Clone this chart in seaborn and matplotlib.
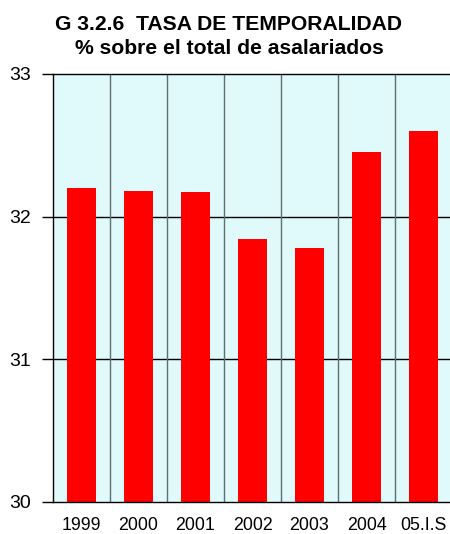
import numpy as np
import pandas as pd
import matplotlib.pyplot as plt
import seaborn as sns

# datos
years = ["1999", "2000", "2001", "2002", "2003", "2004", "05.I.S"]
tasa = [32.20, 32.18, 32.17, 31.84, 31.78, 32.45, 32.60]

df = pd.DataFrame({"periodo": years, "tasa": tasa})

sns.set_style("white")
plt.rcParams["font.family"] = ["Liberation Sans", "DejaVu Sans"]
plt.rcParams["text.color"] = "black"
plt.rcParams["xtick.color"] = "black"
plt.rcParams["ytick.color"] = "black"

fig = plt.figure(figsize=(4.5, 5.34), dpi=100)
ax = fig.add_axes([53 / 450, 32 / 534, 399 / 450, 428 / 534])
ax.set_facecolor("#e0f9fa")

sns.barplot(data=df, x="periodo", y="tasa", color="#ff0000", width=0.51,
            saturation=1, edgecolor="none", ax=ax)

ax.set_ylim(30, 33)
ax.set_xlim(-0.5, len(years) - 0.5)
ax.set_yticks([30, 31, 32, 33])
ax.set_xlabel("")
ax.set_ylabel("")

# rejilla: horizontales negras, verticales entre categorias
for y in [31, 32]:
    ax.axhline(y, color="black", lw=1, zorder=0.5)
for i in range(1, len(years)):
    ax.axvline(i - 0.5, color="#5f6f6f", lw=1, zorder=0.5)

for s in ["left", "bottom", "top"]:
    ax.spines[s].set_color("black")
    ax.spines[s].set_linewidth(1)
ax.spines["right"].set_visible(False)

ax.tick_params(axis="y", length=8, width=1, colors="black", labelsize=14, pad=8, left=True)
ax.tick_params(axis="x", length=0, labelsize=12.8, pad=11, colors="black")

fig.text(0.507, 0.955, "G 3.2.6  TASA DE TEMPORALIDAD", ha="center", va="center",
         fontsize=15.2, fontweight="bold", color="black")
fig.text(0.509, 0.909, "% sobre el total de asalariados", ha="center", va="center",
         fontsize=15.2, fontweight="bold", color="black")

fig.savefig("out.png", dpi=100)
